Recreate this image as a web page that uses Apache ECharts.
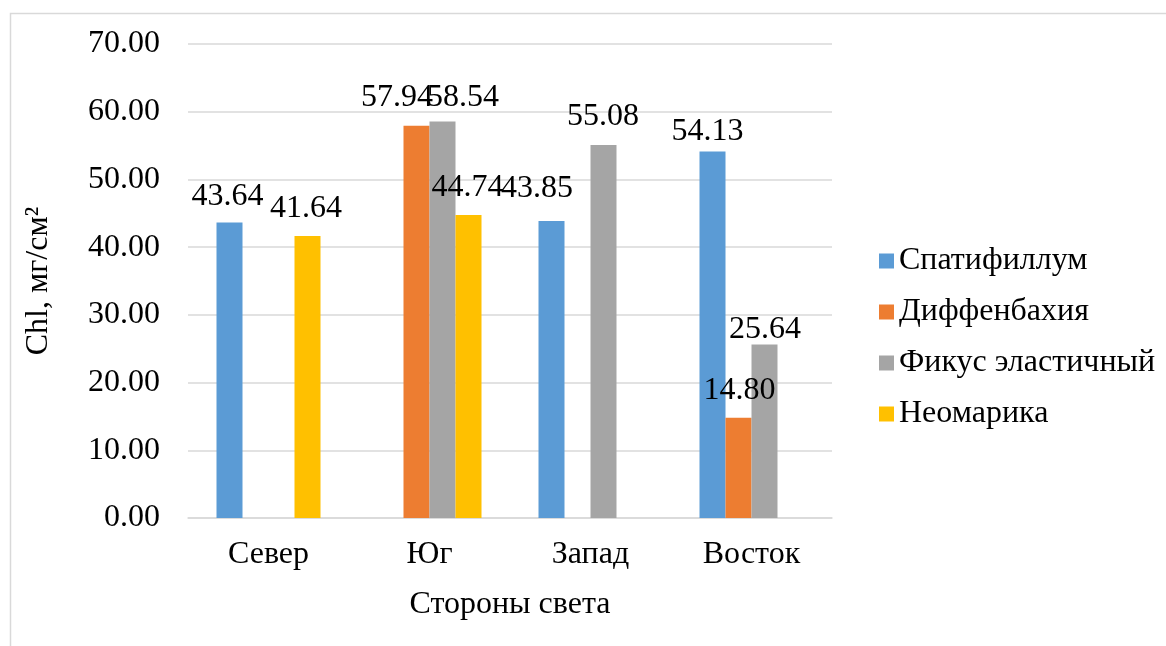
<!DOCTYPE html>
<html>
<head>
<meta charset="utf-8">
<script src="https://cdn.jsdelivr.net/npm/echarts@6/dist/echarts.min.js"></script>
<style>
  html, body { margin: 0; padding: 0; background: #fff; }
  #chart { width: 1166px; height: 646px; }
</style>
</head>
<body>
<div id="chart"></div>
<script>
// Chlorophyll content by cardinal direction of placement
const categories = ['Север', 'Юг', 'Запад', 'Восток'];
const seriesNames = ['Спатифиллум', 'Диффенбахия', 'Фикус эластичный', 'Неомарика'];
const spathiphyllum = [43.64, null, 43.85, 54.13];
const dieffenbachia = [null, 57.94, null, 14.80];
const ficus = [null, 58.54, 55.08, 25.64];
const neomarica = [41.64, 44.74, null, null];
const yTicks = [0, 10, 20, 30, 40, 50, 60, 70];

const seriesValues = [spathiphyllum, dieffenbachia, ficus, neomarica];
const colors = ['#5B9BD5', '#ED7D31', '#A5A5A5', '#FFC000'];

// hand-placed value labels: [dx, dy] nudges per series / category
const labelNudge = {
  '0-0': [-2, 1], '3-0': [-1.5, -0.5],
  '1-1': [-19.5, -1.5], '2-1': [20.5, 2.5], '3-1': [-1, 0],
  '0-2': [-14.5, -5.5], '2-2': [-0.5, -1],
  '0-3': [-5, 7], '1-3': [1, 0], '2-3': [0.5, 12]
};

const FONT = '"Liberation Serif", "Times New Roman", serif';
const FS = 32;

const series = seriesValues.map((vals, s) => ({
  name: seriesNames[s],
  type: 'bar',
  barWidth: 26,
  barGap: '0%',
  itemStyle: { color: colors[s] },
  data: vals.map((v, c) => {
    if (v === null) return null;
    const n = labelNudge[s + '-' + c] || [0, 0];
    return { value: v, label: { offset: n } };
  }),
  label: {
    show: true,
    position: 'top',
    distance: 11,
    fontFamily: FONT,
    fontSize: FS,
    color: '#000',
    formatter: p => p.value.toFixed(2)
  }
}));

const chart = echarts.init(document.getElementById('chart'));
chart.setOption({
  animation: false,
  backgroundColor: '#fff',
  textStyle: { fontFamily: FONT },
  graphic: [{
    type: 'rect',
    shape: { x: 10.5, y: 13.5, width: 1300, height: 800 },
    style: { fill: 'none', stroke: '#d9d9d9', lineWidth: 1.5 },
    silent: true,
    z: -10
  }],
  grid: { left: 188, right: 334, top: 44, bottom: 128 },
  legend: {
    orient: 'vertical',
    left: 874,
    top: 240,
    icon: 'rect',
    itemWidth: 15,
    itemHeight: 15,
    itemGap: 19,
    data: seriesNames,
    textStyle: { fontFamily: FONT, fontSize: FS, color: '#000' }
  },
  xAxis: {
    type: 'category',
    data: categories,
    name: 'Стороны света',
    nameLocation: 'middle',
    nameGap: 71,
    nameTextStyle: { fontFamily: FONT, fontSize: FS, color: '#000' },
    axisLine: { lineStyle: { color: '#d9d9d9', width: 1.5 } },
    axisTick: { show: false },
    axisLabel: { fontFamily: FONT, fontSize: FS, color: '#000', margin: 21 }
  },
  yAxis: {
    type: 'value',
    min: yTicks[0],
    max: yTicks[yTicks.length - 1],
    interval: yTicks[1] - yTicks[0],
    name: 'Chl, мг/см²',
    nameLocation: 'middle',
    nameGap: 133,
    nameTextStyle: { fontFamily: FONT, fontSize: FS, color: '#000' },
    axisLine: { show: false },
    axisTick: { show: false },
    splitLine: { lineStyle: { color: '#d9d9d9', width: 1.5 } },
    axisLabel: {
      fontFamily: FONT, fontSize: FS, color: '#000', margin: 28,
      formatter: v => v.toFixed(2)
    }
  },
  series: series
});
</script>
</body>
</html>
